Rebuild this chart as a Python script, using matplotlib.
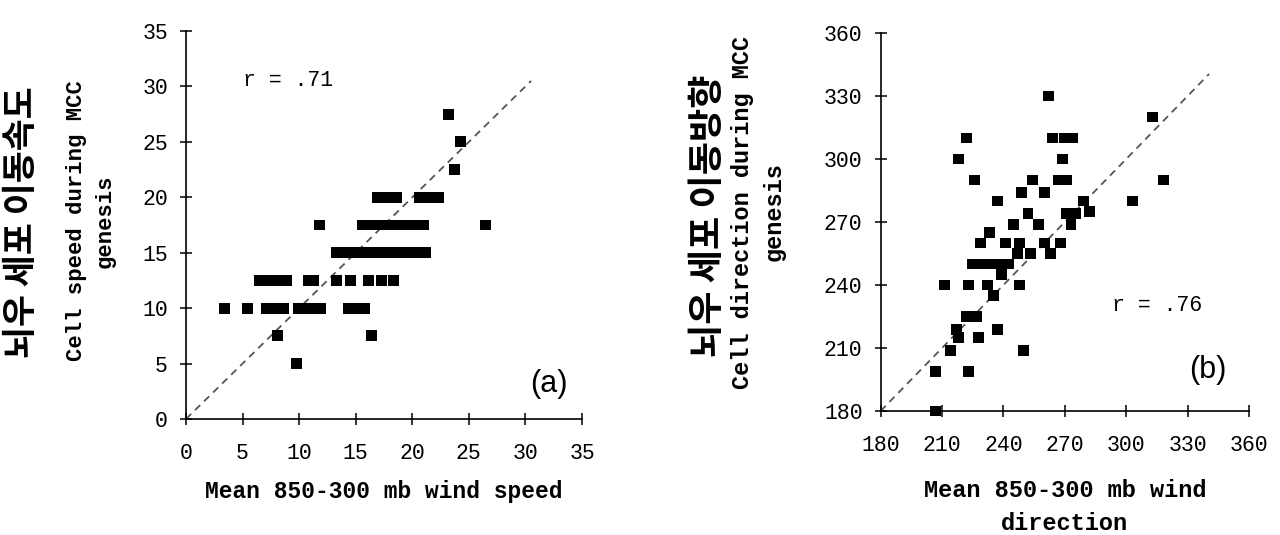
import matplotlib
matplotlib.use("Agg")
import matplotlib.pyplot as plt

# ---- panel (a): wind speed vs cell speed ----
speed_wind = [16.9, 17.5, 18.0, 18.6, 20.6, 21.2, 21.8, 22.3,
              11.8, 15.6, 16.3, 17.3, 18.0, 18.8, 19.5, 20.4, 21.0, 26.5,
              13.3, 14.0, 14.7, 15.4, 16.1, 16.8, 17.5, 18.2, 18.9, 19.6, 20.4, 21.2,
              6.5, 7.3, 8.1, 8.9, 10.8, 11.3, 13.3, 14.5, 16.1, 17.3, 18.3,
              3.4, 5.4, 7.1, 7.9, 8.6, 9.9, 10.7, 11.4, 11.9, 14.4, 15.1, 15.8,
              8.1, 16.4, 9.8, 23.2, 24.3, 23.7]
speed_cell = [20] * 8 + [17.5] * 10 + [15] * 12 + [12.5] * 11 + [10] * 12 + \
             [7.5, 7.5, 5, 27.5, 25, 22.5]
speed_ticks = [0, 5, 10, 15, 20, 25, 30, 35]
speed_r = "r = .71"

# ---- panel (b): wind direction vs cell direction ----
dir_wind = [262, 313, 222, 264, 270, 274, 218, 269, 226, 254, 267, 271, 318,
            249, 260, 237, 279, 303, 252, 271, 275, 282, 245, 257, 273, 233,
            229, 241, 248, 260, 268, 247, 253, 263,
            225, 228.5, 232, 235.5, 239, 242.5, 239,
            211, 223, 232, 248, 235, 222, 227, 217, 237, 218, 228, 214, 250,
            207, 223, 207]
dir_cell = [330, 320, 310, 310, 310, 310, 300, 300, 290, 290, 290, 290, 290,
            284, 284, 280, 280, 280, 274, 274, 274, 275, 269, 269, 269, 265,
            260, 260, 260, 260, 260, 255, 255, 255,
            250, 250, 250, 250, 250, 250, 245,
            240, 240, 240, 240, 235, 225, 225, 219, 219, 215, 215, 209, 209,
            199, 199, 180]
dir_ticks = [180, 210, 240, 270, 300, 330, 360]
dir_r = "r = .76"

MONO = "Liberation Mono"
KO = ["Noto Sans CJK KR", "DejaVu Sans"]

fig = plt.figure(figsize=(12.8, 5.35), dpi=100)
ax_a = fig.add_axes([0.1453, 0.2168, 0.3094, 0.7252])
ax_b = fig.add_axes([0.688, 0.2318, 0.2878, 0.7065])


def style(ax, ticks, xpad, ypad):
    ax.set_xlim(ticks[0], ticks[-1])
    ax.set_ylim(ticks[0], ticks[-1])
    ax.set_xticks(ticks)
    ax.set_yticks(ticks)
    for s in ("top", "right"):
        ax.spines[s].set_visible(False)
    for s in ("left", "bottom"):
        ax.spines[s].set_linewidth(1.2)
    ax.tick_params(direction="inout", length=8, width=1.1, labelsize=15.5)
    ax.tick_params(axis="x", pad=xpad)
    ax.tick_params(axis="y", pad=ypad)
    for lab in ax.get_xticklabels() + ax.get_yticklabels():
        lab.set_fontfamily(MONO)


# (a)
ax_a.plot([0, 30.5], [0, 30.5], ls=(0, (4, 3)), color="#555555", lw=1.3)
ax_a.scatter(speed_wind, speed_cell, marker="s", s=62, color="black",
             edgecolors="none", clip_on=False, zorder=3)
style(ax_a, speed_ticks, 13, 9)
ax_a.text(5.0, 30.5, speed_r, fontfamily=MONO, fontsize=15.5, va="center")
ax_a.text(30.4, 3.2, "(a)", fontfamily="Liberation Sans", fontsize=22, va="center")
ax_a.set_xlabel("Mean 850-300 mb wind speed", fontfamily=MONO,
                fontweight="bold", fontsize=16.5, labelpad=12)

# (b)
ax_b.plot([180, 340.5], [180, 340.5], ls=(0, (4, 3)), color="#555555", lw=1.3)
ax_b.scatter(dir_wind, dir_cell, marker="s", s=62, color="black",
             edgecolors="none", clip_on=False, zorder=3)
style(ax_b, dir_ticks, 13, 9)
ax_b.text(293, 230, dir_r, fontfamily=MONO, fontsize=15.5, va="center")
ax_b.text(330.7, 199.5, "(b)", fontfamily="Liberation Sans", fontsize=22, va="center")
ax_b.set_xlabel("Mean 850-300 mb wind\ndirection", fontfamily=MONO,
                fontweight="bold", fontsize=17, labelpad=17, linespacing=1.55)

# rotated y labels (English + Korean)
fig.text(91 / 1280, 1 - 221 / 535, "Cell speed during MCC\ngenesis",
         rotation=90, ha="center", va="center", fontfamily=MONO,
         fontweight="bold", fontsize=16, linespacing=1.5)
fig.text(22 / 1280, 1 - 222 / 535, "뇌우 세포 이동속도", rotation=90,
         ha="center", va="center", family=KO, fontweight="bold", fontsize=25)
fig.text(758 / 1280, 1 - 212 / 535, "Cell direction during MCC\ngenesis",
         rotation=90, ha="center", va="center", fontfamily=MONO,
         fontweight="bold", fontsize=17, linespacing=1.5)
fig.text(709 / 1280, 1 - 216 / 535, "뇌우 세포 이동방향", rotation=90,
         ha="center", va="center", family=KO, fontweight="bold", fontsize=26)

fig.savefig("out.png", dpi=100, facecolor="white")
